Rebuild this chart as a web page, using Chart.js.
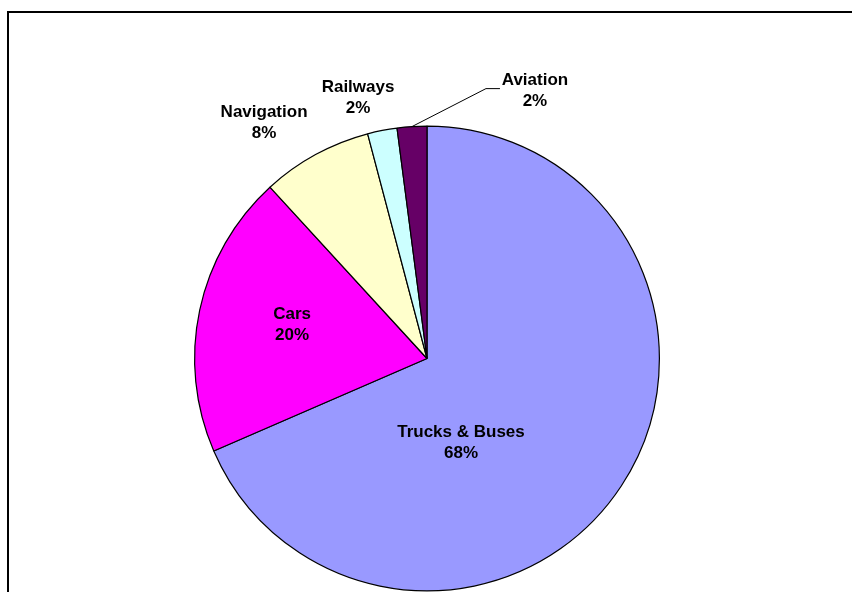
<!DOCTYPE html>
<html>
<head>
<meta charset="utf-8">
<script src="https://cdn.jsdelivr.net/npm/chart.js@4/dist/chart.umd.min.js"></script>
<style>
  html, body { margin: 0; padding: 0; background: #ffffff; }
  #wrap { position: relative; width: 852px; height: 592px; }
  canvas { display: block; }
</style>
</head>
<body>
<div id="wrap"><canvas id="c" width="852" height="592"></canvas></div>
<script>
// ---- data ----
const categories = ["Trucks & Buses", "Cars", "Navigation", "Railways", "Aviation"];
const shares = [68.49, 19.7, 7.7, 2.05, 2.06];
const sliceColors = ["#9999FF", "#FF00FF", "#FFFFCC", "#CCFFFF", "#660066"];

// label placement (offsets of first text baseline from pie centre, in px at r=232.5)
const labelPlacement = [
  { dx: 34, dy: 79 },
  { dx: -135, dy: -40 },
  { dx: -163, dy: -242 },
  { dx: -69, dy: -267 },
  { dx: 108, dy: -274, leader: true }
];

const framePlugin = {
  id: 'frame',
  beforeDraw(chart) {
    const ctx = chart.ctx;
    ctx.save();
    ctx.fillStyle = '#ffffff';
    ctx.fillRect(0, 0, chart.width, chart.height);
    ctx.fillStyle = '#000000';
    ctx.fillRect(7, 11, 2, chart.height - 11);
    ctx.fillRect(7, 11, chart.width - 7, 2);
    ctx.restore();
  }
};

const labelPlugin = {
  id: 'sliceLabels',
  afterDatasetsDraw(chart) {
    const ctx = chart.ctx;
    const meta = chart.getDatasetMeta(0);
    const total = shares.reduce((a, b) => a + b, 0);
    ctx.save();
    ctx.font = 'bold 17px "Liberation Sans", Arial, sans-serif';
    ctx.fillStyle = '#000000';
    ctx.textAlign = 'center';
    ctx.textBaseline = 'alphabetic';
    meta.data.forEach((arc, i) => {
      const p = arc.getProps(['x', 'y', 'startAngle', 'endAngle', 'outerRadius'], true);
      const k = p.outerRadius / 232.5;
      const pl = labelPlacement[i];
      const lx = p.x + pl.dx * k;
      const ly = p.y + pl.dy * k;
      const pct = Math.round(shares[i] / total * 100) + '%';
      if (pl.leader) {
        const mid = (p.startAngle + p.endAngle) / 2;
        const sx = p.x + Math.cos(mid) * p.outerRadius;
        const sy = p.y + Math.sin(mid) * p.outerRadius;
        ctx.beginPath();
        ctx.strokeStyle = '#000000';
        ctx.lineWidth = 1;
        ctx.moveTo(sx, sy);
        ctx.lineTo(lx - 49 * k, ly + 4 * k);
        ctx.lineTo(lx - 35 * k, ly + 4 * k);
        ctx.stroke();
      }
      ctx.fillText(categories[i], lx, ly);
      ctx.fillText(pct, lx, ly + 21);
    });
    ctx.restore();
  }
};

new Chart(document.getElementById('c'), {
  type: 'pie',
  data: {
    labels: categories,
    datasets: [{
      data: shares,
      backgroundColor: sliceColors,
      borderColor: '#000000',
      borderWidth: 1.2,
      borderAlign: 'center'
    }]
  },
  options: {
    responsive: false,
    animation: false,
    events: [],
    layout: { padding: { left: 194, right: 192, top: 125, bottom: 0 } },
    plugins: {
      legend: { display: false },
      tooltip: { enabled: false },
      title: { display: false }
    }
  },
  plugins: [framePlugin, labelPlugin]
});
</script>
</body>
</html>
